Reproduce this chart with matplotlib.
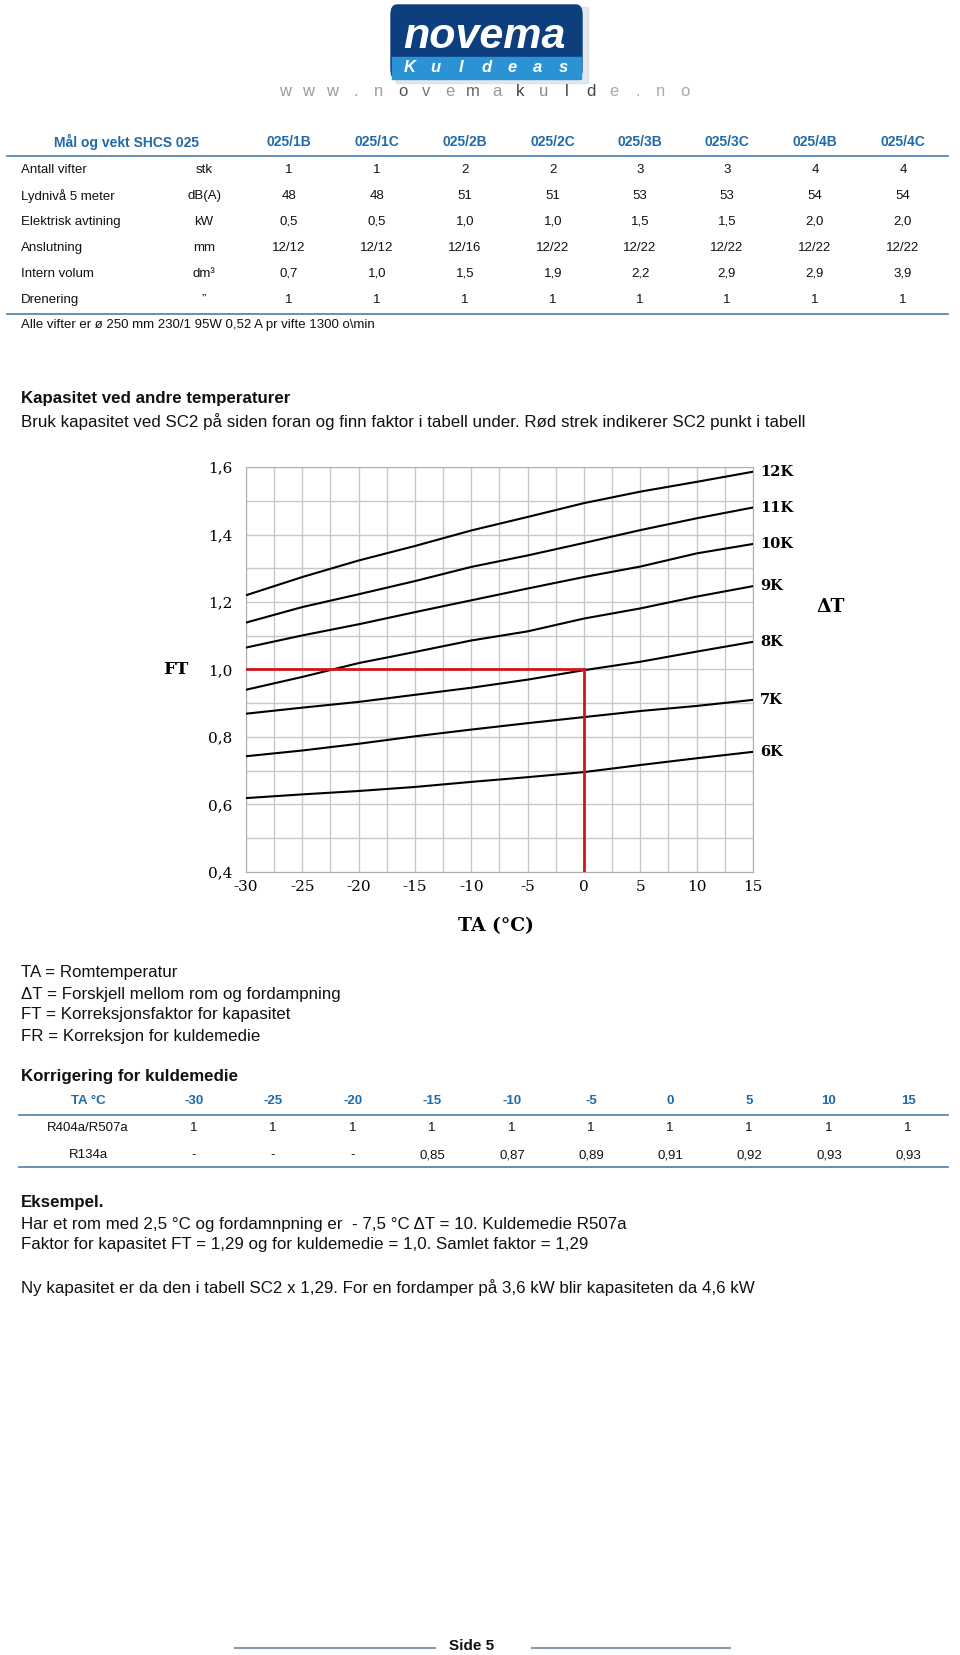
import numpy as np
import matplotlib.pyplot as plt
from matplotlib.patches import FancyBboxPatch, Rectangle
from matplotlib.lines import Line2D

W, H = 960, 1655
SANS = 'Liberation Sans'
SERIF = 'DejaVu Serif'
BLUE_TXT = '#1f6aa8'
RULE = '#5a87b0'

# %% data -------------------------------------------------------------
models = ['025/1B', '025/1C', '025/2B', '025/2C', '025/3B', '025/3C', '025/4B', '025/4C']
row_labels = ['Antall vifter', 'Lydnivå 5 meter', 'Elektrisk avtining', 'Anslutning',
              'Intern volum', 'Drenering']
row_units = ['stk', 'dB(A)', 'kW', 'mm', 'dm³', '\u201d']
fans = ['1', '1', '2', '2', '3', '3', '4', '4']
noise = ['48', '48', '51', '51', '53', '53', '54', '54']
defrost = ['0,5', '0,5', '1,0', '1,0', '1,5', '1,5', '2,0', '2,0']
connection = ['12/12', '12/12', '12/16', '12/22', '12/22', '12/22', '12/22', '12/22']
volume = ['0,7', '1,0', '1,5', '1,9', '2,2', '2,9', '2,9', '3,9']
drain = ['1', '1', '1', '1', '1', '1', '1', '1']

ta = [-30, -25, -20, -15, -10, -5, 0, 5, 10, 15]
dt_labels = ['12K', '11K', '10K', '9K', '8K', '7K', '6K']
ft_12k = [1.220, 1.274, 1.323, 1.366, 1.412, 1.452, 1.493, 1.527, 1.556, 1.586]
ft_11k = [1.139, 1.185, 1.223, 1.262, 1.304, 1.338, 1.375, 1.413, 1.448, 1.480]
ft_10k = [1.065, 1.101, 1.134, 1.170, 1.205, 1.240, 1.274, 1.305, 1.344, 1.372]
ft_9k = [0.940, 0.978, 1.019, 1.052, 1.086, 1.113, 1.151, 1.181, 1.216, 1.247]
ft_8k = [0.869, 0.887, 0.904, 0.925, 0.946, 0.970, 0.998, 1.023, 1.053, 1.082]
ft_7k = [0.743, 0.760, 0.780, 0.802, 0.822, 0.841, 0.859, 0.877, 0.892, 0.910]
ft_6k = [0.619, 0.630, 0.640, 0.652, 0.667, 0.681, 0.696, 0.717, 0.737, 0.756]
example_ta, example_ft = 0, 1.0

ref_ta = ['-30', '-25', '-20', '-15', '-10', '-5', '0', '5', '10', '15']
r404 = ['1', '1', '1', '1', '1', '1', '1', '1', '1', '1']
r134 = ['-', '-', '-', '0,85', '0,87', '0,89', '0,91', '0,92', '0,93', '0,93']

# %% helpers ----------------------------------------------------------
fig = plt.figure(figsize=(W / 100, H / 100), dpi=100)


def fx(x):
    return x / W


def fy(y):
    return 1 - y / H


def txt(x, y, s, size=9.5, ha='left', weight='normal', color='#111111', family=SANS, **kw):
    fig.text(fx(x), fy(y), s, fontsize=size, ha=ha, va='center', fontweight=weight,
             color=color, family=family, **kw)


def hline(x0, x1, y, color=RULE, lw=1.3):
    fig.add_artist(Line2D([fx(x0), fx(x1)], [fy(y), fy(y)], color=color, lw=lw))


# %% logo -------------------------------------------------------------
fig.add_artist(Rectangle((fx(396), fy(83)), fx(192), 76 / H, color='#c8d2dc', alpha=0.5))
fig.add_artist(FancyBboxPatch((fx(391), fy(79)), fx(191), 74 / H,
                              boxstyle='round,pad=0,rounding_size=0.006', color='#0d3f7e'))
fig.add_artist(Rectangle((fx(392), fy(79)), fx(189), 22 / H, color='#2a93d5'))
txt(484, 37, 'novema', size=31, ha='center', weight='bold', color='white', style='italic')
for i, ch in enumerate('Kuldeas'):
    txt(410 + i * 25.5, 68, ch, size=12, ha='center', weight='bold', color='white',
        style='italic')
url = 'www.novemakulde.no'
url_grey = ['#9a9a9a'] * 4 + ['#a0a0a0', '#555555', '#777777', '#999999', '#666666', '#999999',
                              '#444444', '#888888', '#444444', '#444444', '#aaaaaa', '#aaaaaa',
                              '#aaaaaa', '#aaaaaa']
for i, ch in enumerate(url):
    txt(285 + i * 23.5, 92, ch, size=12, ha='center', color=url_grey[i])

# %% top table --------------------------------------------------------
col_x = [289, 377, 465, 553, 640, 727, 815, 903]
txt(127, 142, 'Mål og vekt SHCS 025', size=10, ha='center', weight='bold', color=BLUE_TXT)
for x, m in zip(col_x, models):
    txt(x, 142, m, size=10, ha='center', weight='bold', color=BLUE_TXT)
hline(7, 948, 156)
rows = [fans, noise, defrost, connection, volume, drain]
for i, (lab, unit, vals) in enumerate(zip(row_labels, row_units, rows)):
    y = 170 + i * 26
    txt(21, y, lab)
    txt(204, y, unit, ha='center')
    for x, v in zip(col_x, vals):
        txt(x, y, v, ha='center')
hline(7, 948, 314)
txt(21, 325, 'Alle vifter er ø 250 mm 230/1 95W 0,52 A pr vifte 1300 o\\min')

# %% intro text -------------------------------------------------------
txt(21, 398, 'Kapasitet ved andre temperaturer', size=12.2, weight='bold')
txt(21, 422, 'Bruk kapasitet ved SC2 på siden foran og finn faktor i tabell under. '
             'Rød strek indikerer SC2 punkt i tabell', size=12.2)

# %% chart ------------------------------------------------------------
ax = fig.add_axes([fx(246), fy(872), (753 - 246) / W, (872 - 467) / H])
curves = [ft_12k, ft_11k, ft_10k, ft_9k, ft_8k, ft_7k, ft_6k]
for lab, vals in zip(dt_labels, curves):
    ax.plot(ta, vals, color='black', lw=1.5, zorder=3)
    ax.text(ta[-1] + 0.6, vals[-1], lab, fontsize=10.5, fontweight='bold', family=SERIF,
            va='center', ha='left', clip_on=False)
ax.plot([ta[0], example_ta], [example_ft, example_ft], color='#d2141c', lw=2, zorder=4)
ax.plot([example_ta, example_ta], [0.4, example_ft], color='#d2141c', lw=2, zorder=4)

ax.set_xlim(-30, 15)
ax.set_ylim(0.4, 1.6)
ax.set_xticks(ta)
ax.set_xticks(np.arange(-30, 15.1, 2.5), minor=True)
yt = [0.4, 0.6, 0.8, 1.0, 1.2, 1.4, 1.6]
ax.set_yticks(yt)
ax.set_yticks(np.arange(0.4, 1.61, 0.1), minor=True)
ax.set_yticklabels([f'{v:.1f}'.replace('.', ',') for v in yt])
ax.set_xticklabels([str(v) for v in ta])
ax.tick_params(which='both', length=0)
ax.tick_params(axis='y', pad=10)
ax.tick_params(axis='x', pad=6)
for lab in ax.get_xticklabels() + ax.get_yticklabels():
    lab.set_family(SERIF)
    lab.set_fontsize(11)
ax.grid(True, which='both', color='#c8c8c8', lw=1)
ax.set_axisbelow(True)
for sp in ax.spines.values():
    sp.set_color('#b0b0b0')

ax.text(-36.2, 1.0, 'FT', fontsize=12.5, fontweight='bold', family=SERIF, va='center',
        ha='center', clip_on=False)
ax.text(21.9, 1.185, 'ΔT', fontsize=13.5, fontweight='bold', family=SERIF, va='center',
        ha='center', clip_on=False)
ax.text(-7.8, 0.24, 'TA (°C)', fontsize=13.5, fontweight='bold', family=SERIF, va='center',
        ha='center', clip_on=False)

# %% legend text ------------------------------------------------------
for i, s in enumerate(['TA = Romtemperatur', 'ΔT = Forskjell mellom rom og fordampning',
                       'FT = Korreksjonsfaktor for kapasitet',
                       'FR = Korreksjon for kuldemedie']):
    txt(21, 973 + i * 21, s, size=12.2)
txt(21, 1077, 'Korrigering for kuldemedie', size=12.2, weight='bold')

# %% bottom table -----------------------------------------------------
ref_x = [194, 273, 353, 432, 512, 591, 670, 749, 829, 908]
txt(88, 1101, 'TA °C', size=9.5, ha='center', weight='bold', color=BLUE_TXT)
for x, v in zip(ref_x, ref_ta):
    txt(x, 1101, v, size=9.5, ha='center', weight='bold', color=BLUE_TXT)
hline(19, 948, 1115)
txt(88, 1128, 'R404a/R507a', ha='center')
txt(88, 1155, 'R134a', ha='center')
for x, a, b in zip(ref_x, r404, r134):
    txt(x, 1128, a, ha='center')
    txt(x, 1155, b, ha='center')
hline(19, 948, 1167)

# %% example ----------------------------------------------------------
txt(21, 1202, 'Eksempel.', size=12.2, weight='bold')
txt(21, 1224, 'Har et rom med 2,5 °C og fordamnpning er  - 7,5 °C ΔT = 10. Kuldemedie R507a',
    size=12.2)
txt(21, 1245, 'Faktor for kapasitet FT = 1,29 og for kuldemedie = 1,0. Samlet faktor = 1,29',
    size=12.2)
txt(21, 1288, 'Ny kapasitet er da den i tabell SC2 x 1,29. For en fordamper på 3,6 kW blir '
              'kapasiteten da 4,6 kW', size=12.2)

# %% footer -----------------------------------------------------------
hline(235, 435, 1648, color='#8a9aa8', lw=1.5)
hline(532, 730, 1648, color='#8a9aa8', lw=1.5)
txt(472, 1646, 'Side 5', size=11, ha='center', weight='bold')

fig.savefig('out.png', dpi=100)
